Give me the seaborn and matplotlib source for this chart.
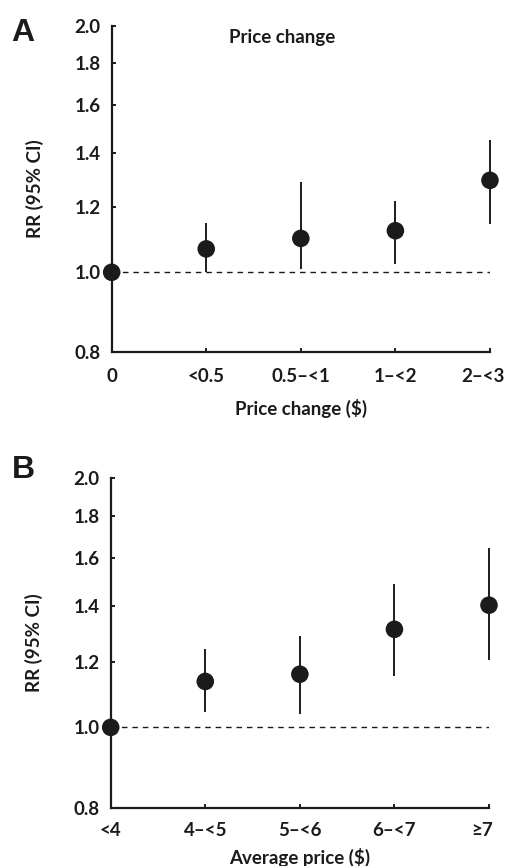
"""
Relative risk by price change and average price (two-panel dot plot).
"""

import matplotlib
matplotlib.use("Agg")
import matplotlib.pyplot as plt
import matplotlib.ticker as mticker
import matplotlib.transforms as mtransforms
import seaborn as sns
import pandas as pd
import numpy as np


# Panel A: price change
change_labels = ["0", "<0.5", "0.5\u2013<1", "1\u2013<2", "2\u2013<3"]
change_rr = [1.00, 1.068, 1.100, 1.124, 1.295]
change_lo = [1.00, 1.000, 1.010, 1.023, 1.144]
change_hi = [1.00, 1.149, 1.289, 1.223, 1.452]

# Panel B: average price
price_labels = ["<4", "4\u2013<5", "5\u2013<6", "6\u2013<7", "\u22657"]
price_rr = [1.00, 1.136, 1.159, 1.313, 1.404]
price_lo = [1.00, 1.045, 1.039, 1.152, 1.206]
price_hi = [1.00, 1.244, 1.288, 1.490, 1.644]

y_ticks = [0.8, 1.0, 1.2, 1.4, 1.6, 1.8, 2.0]

sns.set_theme(style="ticks", context="notebook")
plt.rcParams["font.family"] = ["Lato", "DejaVu Sans"]
plt.rcParams["font.weight"] = "bold"

INK = "#1c1a1b"
FS = 13.5


def draw_panel(fig, ax, labels, rr, lo, hi, xlabel, tick_pad, xlabel_y, title=None):
    df = pd.DataFrame({"pos": np.arange(len(labels)), "rr": rr, "lo": lo, "hi": hi})

    ax.axhline(1.0, color=INK, lw=1.0, ls=(0, (4, 3.5)), zorder=1)
    ax.vlines(df["pos"], df["lo"], df["hi"], color=INK, lw=1.4, zorder=2,
              clip_on=False)
    sns.scatterplot(data=df, x="pos", y="rr", ax=ax, s=160, color=INK,
                    edgecolor="none", zorder=3, clip_on=False, legend=False)

    ax.set_yscale("log")
    ax.set_ylim(0.8, 2.0)
    ax.set_xlim(0, len(labels) - 1)
    ax.yaxis.set_major_locator(mticker.FixedLocator(y_ticks))
    ax.yaxis.set_major_formatter(mticker.FixedFormatter([f"{v:.1f}" for v in y_ticks]))
    ax.yaxis.set_minor_locator(mticker.NullLocator())
    ax.set_xticks(df["pos"])
    ax.set_xticklabels(labels)

    ax.tick_params(axis="both", direction="in", length=3, width=1.4,
                   color=INK, labelsize=FS, labelcolor=INK)
    ax.tick_params(axis="x", pad=tick_pad)
    ax.tick_params(axis="y", pad=8)
    for lab in ax.get_xticklabels() + ax.get_yticklabels():
        lab.set_fontweight("bold")
    # last category label sits a little left of its tick, as in the original
    last = ax.get_xticklabels()[-1]
    last.set_transform(last.get_transform()
                       + mtransforms.ScaledTranslation(-7 / 100, 0, fig.dpi_scale_trans))

    sns.despine(ax=ax)
    for side in ["left", "bottom"]:
        ax.spines[side].set_linewidth(1.6)
        ax.spines[side].set_color(INK)

    ax.set_xlabel(xlabel, fontsize=FS, fontweight="bold", color=INK)
    ax.xaxis.set_label_coords(0.5, xlabel_y)
    ax.set_ylabel("RR (95% CI)", fontsize=FS, fontweight="bold", color=INK)
    ax.yaxis.set_label_coords(-0.178, 0.5)
    if title:
        ax.text(0.45, 0.965, title, transform=ax.transAxes, ha="center", va="center",
                fontsize=FS, fontweight="bold", color=INK)


fig = plt.figure(figsize=(5.06, 8.66), dpi=100)
ax_a = fig.add_axes([0.2207, 0.5939, 0.7476, 0.3764])
ax_b = fig.add_axes([0.2188, 0.0673, 0.7476, 0.3810])

draw_panel(fig, ax_a, change_labels, change_rr, change_lo, change_hi,
           "Price change ($)", tick_pad=12, xlabel_y=-0.145, title="Price change")
draw_panel(fig, ax_b, price_labels, price_rr, price_lo, price_hi,
           "Average price ($)", tick_pad=10, xlabel_y=-0.122)

fig.text(23 / 506, 1 - 33 / 866, "A", ha="center", va="center", fontsize=23,
         fontweight="bold", family="Liberation Sans", color=INK)
fig.text(23 / 506, 1 - 470 / 866, "B", ha="center", va="center", fontsize=23,
         fontweight="bold", family="Liberation Sans", color=INK)

fig.savefig("out.png", dpi=100, facecolor="white")
